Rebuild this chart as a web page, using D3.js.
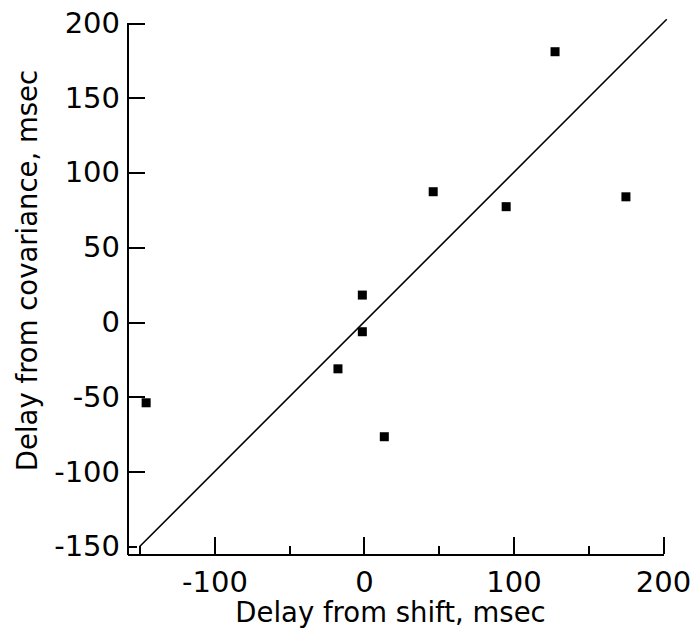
<!DOCTYPE html>
<html>
<head>
<meta charset="utf-8">
<script src="https://cdn.jsdelivr.net/npm/d3@7"></script>
<style>
  body { margin: 0; background: #fff; }
  svg text { font-family: "DejaVu Sans", sans-serif; fill: #000; }
  .axis path, .axis line { stroke: #000; stroke-width: 2; shape-rendering: crispEdges; }
  .axis text { font-size: 29px; }
  .title { font-size: 27.5px; }
</style>
</head>
<body>
<div id="chart"></div>
<script>
// values (msec)
var shiftDelay = [-145.7, -17.4, -1.1, -1.1, 13.6, 46.3, 95.1, 127.8, 175.2];
var covDelay   = [-53.9, -31.2, 18.1, -6.4, -76.6, 87.2, 77.2, 180.8, 83.8];
var identityX  = [-150, 202.5];          // y = x reference line
var xMajor = [-100, 0, 100, 200];
var xMinor = [-150, -50, 50, 150];
var yTicks = [-150, -100, -50, 0, 50, 100, 150, 200];
var xTitle = "Delay from shift, msec";
var yTitle = "Delay from covariance, msec";

var width = 696, height = 643;
var Plot = { left: 127, right: 663, top: 23, bottom: 554 };

var x = d3.scaleLinear().domain([-158.5, 200]).range([Plot.left, Plot.right]);
var y = d3.scaleLinear().domain([-155, 200]).range([Plot.bottom, Plot.top]);

// plain hyphen, like the original labels
var fmt = d => String(d);

var svg = d3.select("#chart").append("svg")
    .attr("width", width)
    .attr("height", height);

// x axis: major ticks with labels, minor ticks without
svg.append("g")
    .attr("class", "axis")
    .attr("transform", `translate(0, ${Plot.bottom})`)
    .call(d3.axisBottom(x).tickValues(xMajor).tickFormat(fmt).tickSizeInner(-17).tickSizeOuter(0).tickPadding(17))
    .call(g => g.selectAll("text").attr("dy", "0.71em"));
svg.append("g")
    .attr("class", "axis")
    .attr("transform", `translate(0, ${Plot.bottom})`)
    .call(d3.axisBottom(x).tickValues(xMinor).tickSizeInner(-8).tickSizeOuter(0).tickFormat(""))
    .call(g => g.select(".domain").remove());

// y axis, ticks pointing inward
svg.append("g")
    .attr("class", "axis")
    .attr("transform", `translate(${Plot.left}, 0)`)
    .call(d3.axisLeft(y).tickValues(yTicks).tickFormat(fmt).tickSizeInner(-18).tickSizeOuter(0).tickPadding(7))
    .call(g => g.selectAll(".tick line").attr("x2", d => d == yTicks[0] ? 10 : 18));

// y = x line
svg.append("line")
    .attr("x1", x(identityX[0])).attr("y1", y(identityX[0]))
    .attr("x2", x(identityX[1])).attr("y2", y(identityX[1]))
    .attr("stroke", "#000")
    .attr("stroke-width", 1.6);

// points
var size = 9;
svg.append("g").selectAll("rect")
    .data(d3.zip(shiftDelay, covDelay))
    .enter()
    .append("rect")
    .attr("x", d => x(d[0]) - size / 2)
    .attr("y", d => y(d[1]) - size / 2)
    .attr("width", size)
    .attr("height", size)
    .attr("fill", "#000");

// titles
svg.append("text")
    .attr("class", "title")
    .attr("text-anchor", "middle")
    .attr("transform", `translate(${(233 + 548) / 2}, 622)`)
    .text(xTitle);
svg.append("text")
    .attr("class", "title")
    .attr("text-anchor", "middle")
    .attr("transform", `translate(37, ${(73 + 468) / 2}) rotate(-90)`)
    .text(yTitle);
</script>
</body>
</html>
